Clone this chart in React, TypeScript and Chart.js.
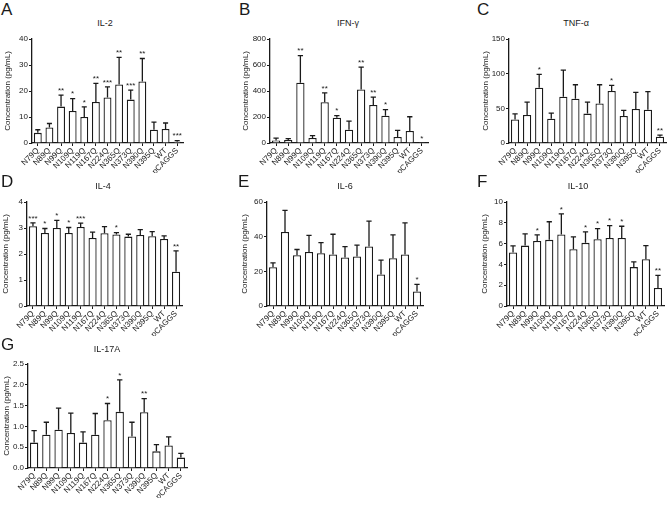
import React, { useEffect, useRef } from 'react';
import { Chart, registerables } from 'chart.js';
Chart.register(...registerables);

const FONT = '"Liberation Sans", Arial, Helvetica, sans-serif';
Chart.defaults.font.family = FONT;

const categories = ['N79Q', 'N89Q', 'N99Q', 'N109Q', 'N119Q', 'N167Q', 'N224Q', 'N365Q', 'N373Q', 'N390Q', 'N395Q', 'WT', 'pCAGGS'];

// IL-2
const il2Mean = [3.9, 6.0, 14.0, 12.3, 10.0, 15.8, 17.5, 22.5, 16.7, 23.7, 5.1, 5.4, 0.5];
const il2Sd = [1.2, 1.5, 4.4, 4.8, 3.9, 7.1, 4.1, 10.4, 3.6, 8.8, 2.9, 2.3, 0.4];
const il2Stars = ['', '', '**', '*', '*', '**', '***', '**', '***', '**', '', '', '***'];

// IFN-γ
const ifnMean = [20, 23, 463, 38, 314, 194, 102, 412, 292, 210, 46, 92, 1];
const ifnSd = [18, 10, 209, 18, 72, 16, 67, 171, 61, 46, 51, 110, 0];
const ifnStars = ['', '', '**', '', '**', '*', '', '**', '**', '*', '', '', '*'];

// TNF-α
const tnfMean = [34, 40.5, 79.6, 35, 66.6, 64, 42.4, 57, 75, 39, 49, 48, 9];
const tnfSd = [8, 18.5, 19.4, 8, 38.4, 20, 16.6, 27, 8, 8, 24, 26, 2.5];
const tnfStars = ['', '', '*', '', '', '', '', '', '*', '', '', '', '**'];

// IL-4
const il4Mean = [3.07, 2.81, 3.0, 2.81, 3.04, 2.62, 2.8, 2.75, 2.67, 2.73, 2.68, 2.58, 1.32];
const il4Sd = [0.13, 0.17, 0.29, 0.21, 0.15, 0.22, 0.25, 0.07, 0.09, 0.21, 0.18, 0.12, 0.8];
const il4Stars = ['***', '*', '*', '*', '***', '', '', '*', '', '', '', '', '**'];

// IL-6
const il6Mean = [22.4, 42.7, 29.3, 31.2, 30.5, 29.7, 28, 28.6, 34.3, 18.2, 27.6, 29.7, 8.4];
const il6Sd = [2.5, 12.5, 3.3, 9.6, 6.1, 11.7, 6.3, 6.5, 14.7, 8.3, 13.4, 18.2, 4.1];
const il6Stars = ['', '', '', '', '', '', '', '', '', '', '', '', '*'];

// IL-10
const il10Mean = [5.14, 5.81, 6.26, 6.36, 6.87, 5.46, 6.07, 6.42, 6.55, 6.55, 3.74, 4.5, 1.73];
const il10Sd = [0.64, 1.12, 0.58, 1.74, 1.98, 1.19, 1.05, 1.02, 1.18, 1.12, 0.51, 1.31, 1.21];
const il10Stars = ['', '', '*', '', '*', '', '*', '*', '*', '*', '', '', '**'];

// IL-17A
const il17Mean = [0.61, 0.8, 0.92, 0.84, 0.61, 0.8, 1.15, 1.35, 0.76, 1.34, 0.4, 0.54, 0.25];
const il17Sd = [0.29, 0.3, 0.52, 0.48, 0.26, 0.51, 0.4, 0.77, 0.34, 0.33, 0.16, 0.21, 0.1];
const il17Stars = ['', '', '', '', '', '', '*', '*', '', '**', '', '', ''];

const yTitle = 'Concentration (pg/mL)';

type Panel = {
  letter: string; title: string; mean: number[]; sd: number[]; stars: string[];
  max: number; step: number; dec: number;
  L: number; R: number; T: number; B: number; yw: number;
  lx: number; lbase: number; tx: number; ty: number;
};

const panels: Panel[] = [
  { letter: 'A', title: 'IL-2', mean: il2Mean, sd: il2Sd, stars: il2Stars, max: 40, step: 10, dec: 0,
    L: 32, R: 183, T: 39, B: 143, yw: 29, lx: 1, lbase: 15, tx: 105, ty: 23 },
  { letter: 'B', title: 'IFN-γ', mean: ifnMean, sd: ifnSd, stars: ifnStars, max: 800, step: 200, dec: 0,
    L: 270, R: 428, T: 38.5, B: 143, yw: 29, lx: 239, lbase: 15, tx: 348, ty: 23 },
  { letter: 'C', title: 'TNF-α', mean: tnfMean, sd: tnfSd, stars: tnfStars, max: 150, step: 50, dec: 0,
    L: 509, R: 666, T: 39, B: 143, yw: 28, lx: 477, lbase: 15, tx: 576, ty: 23 },
  { letter: 'D', title: 'IL-4', mean: il4Mean, sd: il4Sd, stars: il4Stars, max: 4, step: 1, dec: 0,
    L: 27, R: 182, T: 202, B: 306, yw: 26, lx: 1, lbase: 187, tx: 103, ty: 186 },
  { letter: 'E', title: 'IL-6', mean: il6Mean, sd: il6Sd, stars: il6Stars, max: 60, step: 20, dec: 0,
    L: 267, R: 423, T: 202, B: 306, yw: 27, lx: 238, lbase: 187, tx: 345, ty: 186 },
  { letter: 'F', title: 'IL-10', mean: il10Mean, sd: il10Sd, stars: il10Stars, max: 10, step: 2, dec: 0,
    L: 507, R: 664, T: 202, B: 306, yw: 27, lx: 477, lbase: 187, tx: 578, ty: 186 },
  { letter: 'G', title: 'IL-17A', mean: il17Mean, sd: il17Sd, stars: il17Stars, max: 2.5, step: 0.5, dec: 1,
    L: 28, R: 187, T: 364, B: 468, yw: 26, lx: 1, lbase: 350, tx: 107, ty: 349 },
];

const INK = '#1a1a1a';

function makeErrPlugin(sd: number[], stars: string[]) {
  return {
    id: 'errbars',
    afterDatasetsDraw(chart: any) {
      const ctx = chart.ctx;
      const meta = chart.getDatasetMeta(0);
      const ys = chart.scales.y;
      const data = chart.data.datasets[0].data as number[];
      ctx.save();
      meta.data.forEach((bar: any, i: number) => {
        const x = bar.x;
        const w = bar.width;
        const yTop = ys.getPixelForValue(data[i]);
        const yErr = ys.getPixelForValue(data[i] + sd[i]);
        if (sd[i] > 0) {
          ctx.strokeStyle = INK;
          ctx.lineWidth = 1.3;
          ctx.beginPath();
          ctx.moveTo(x, yTop);
          ctx.lineTo(x, yErr);
          ctx.moveTo(x - w * 0.32, yErr);
          ctx.lineTo(x + w * 0.32, yErr);
          ctx.stroke();
        }
        if (stars[i]) {
          ctx.fillStyle = INK;
          ctx.font = '8px ' + FONT;
          ctx.textAlign = 'center';
          ctx.textBaseline = 'bottom';
          ctx.fillText(stars[i], x, yErr - 0.5);
        }
      });
      ctx.restore();
    },
  };
}

const XH = 30;

function PanelChart({ p }: { p: Panel }) {
  const ref = useRef<HTMLCanvasElement>(null);
  const cx = p.L - p.yw - 2;
  const cy = p.T - 8;
  const cw = p.R - cx + 10;
  const ch = p.B - cy + XH + 4;
  useEffect(() => {
    if (!ref.current) return;
    const chart = new Chart(ref.current, {
      type: 'bar',
      data: {
        labels: categories,
        datasets: [{
          data: p.mean,
          backgroundColor: '#ffffff',
          borderColor: INK,
          borderWidth: 1.3,
          categoryPercentage: 0.68,
          barPercentage: 1,
        }],
      },
      options: {
        animation: false,
        responsive: false,
        maintainAspectRatio: false,
        layout: { padding: { left: 2, top: 8, right: 10, bottom: 4 } },
        plugins: { legend: { display: false }, tooltip: { enabled: false }, title: { display: false } },
        scales: {
          x: {
            offset: true,
            grid: { display: true, drawOnChartArea: false, drawTicks: true, tickLength: 3, offset: false, color: INK, lineWidth: 1 },
            border: { display: true, color: INK, width: 1.3 },
            ticks: { autoSkip: false, maxRotation: 45, minRotation: 45, padding: 0, color: INK, font: { size: 8 } },
            afterFit: (s: any) => { s.height = XH; },
          },
          y: {
            min: 0,
            max: p.max,
            grid: { display: true, drawOnChartArea: false, drawTicks: true, tickLength: 3, color: INK, lineWidth: 1 },
            border: { display: true, color: INK, width: 1.3 },
            ticks: {
              stepSize: p.step, padding: 1, color: INK, font: { size: 8 },
              callback: (v: any) => Number(v).toFixed(p.dec),
            },
            title: { display: true, text: yTitle, color: INK, font: { size: 8 }, padding: 0 },
            afterFit: (s: any) => { s.width = p.yw; },
          },
        },
      },
      plugins: [makeErrPlugin(p.sd, p.stars)],
    });
    return () => chart.destroy();
  }, []);
  return (
    <canvas ref={ref} width={cw} height={ch}
      style={{ position: 'absolute', left: cx, top: cy, width: cw, height: ch }} />
  );
}

export default function App() {
  return (
    <div style={{ position: 'absolute', left: 0, top: 0, width: 668, height: 507, background: '#fff', overflow: 'hidden', fontFamily: FONT, color: INK }}>
      {panels.map((p) => (
        <React.Fragment key={p.letter}>
          <div style={{ position: 'absolute', left: p.lx, top: p.lbase - 14.4, fontSize: 17, lineHeight: '17px', whiteSpace: 'nowrap' }}>{p.letter}</div>
          <div style={{ position: 'absolute', left: p.tx - 50, width: 100, top: p.ty - 4.4, fontSize: 9, lineHeight: '9px', textAlign: 'center', whiteSpace: 'nowrap' }}>{p.title}</div>
          <PanelChart p={p} />
        </React.Fragment>
      ))}
    </div>
  );
}
